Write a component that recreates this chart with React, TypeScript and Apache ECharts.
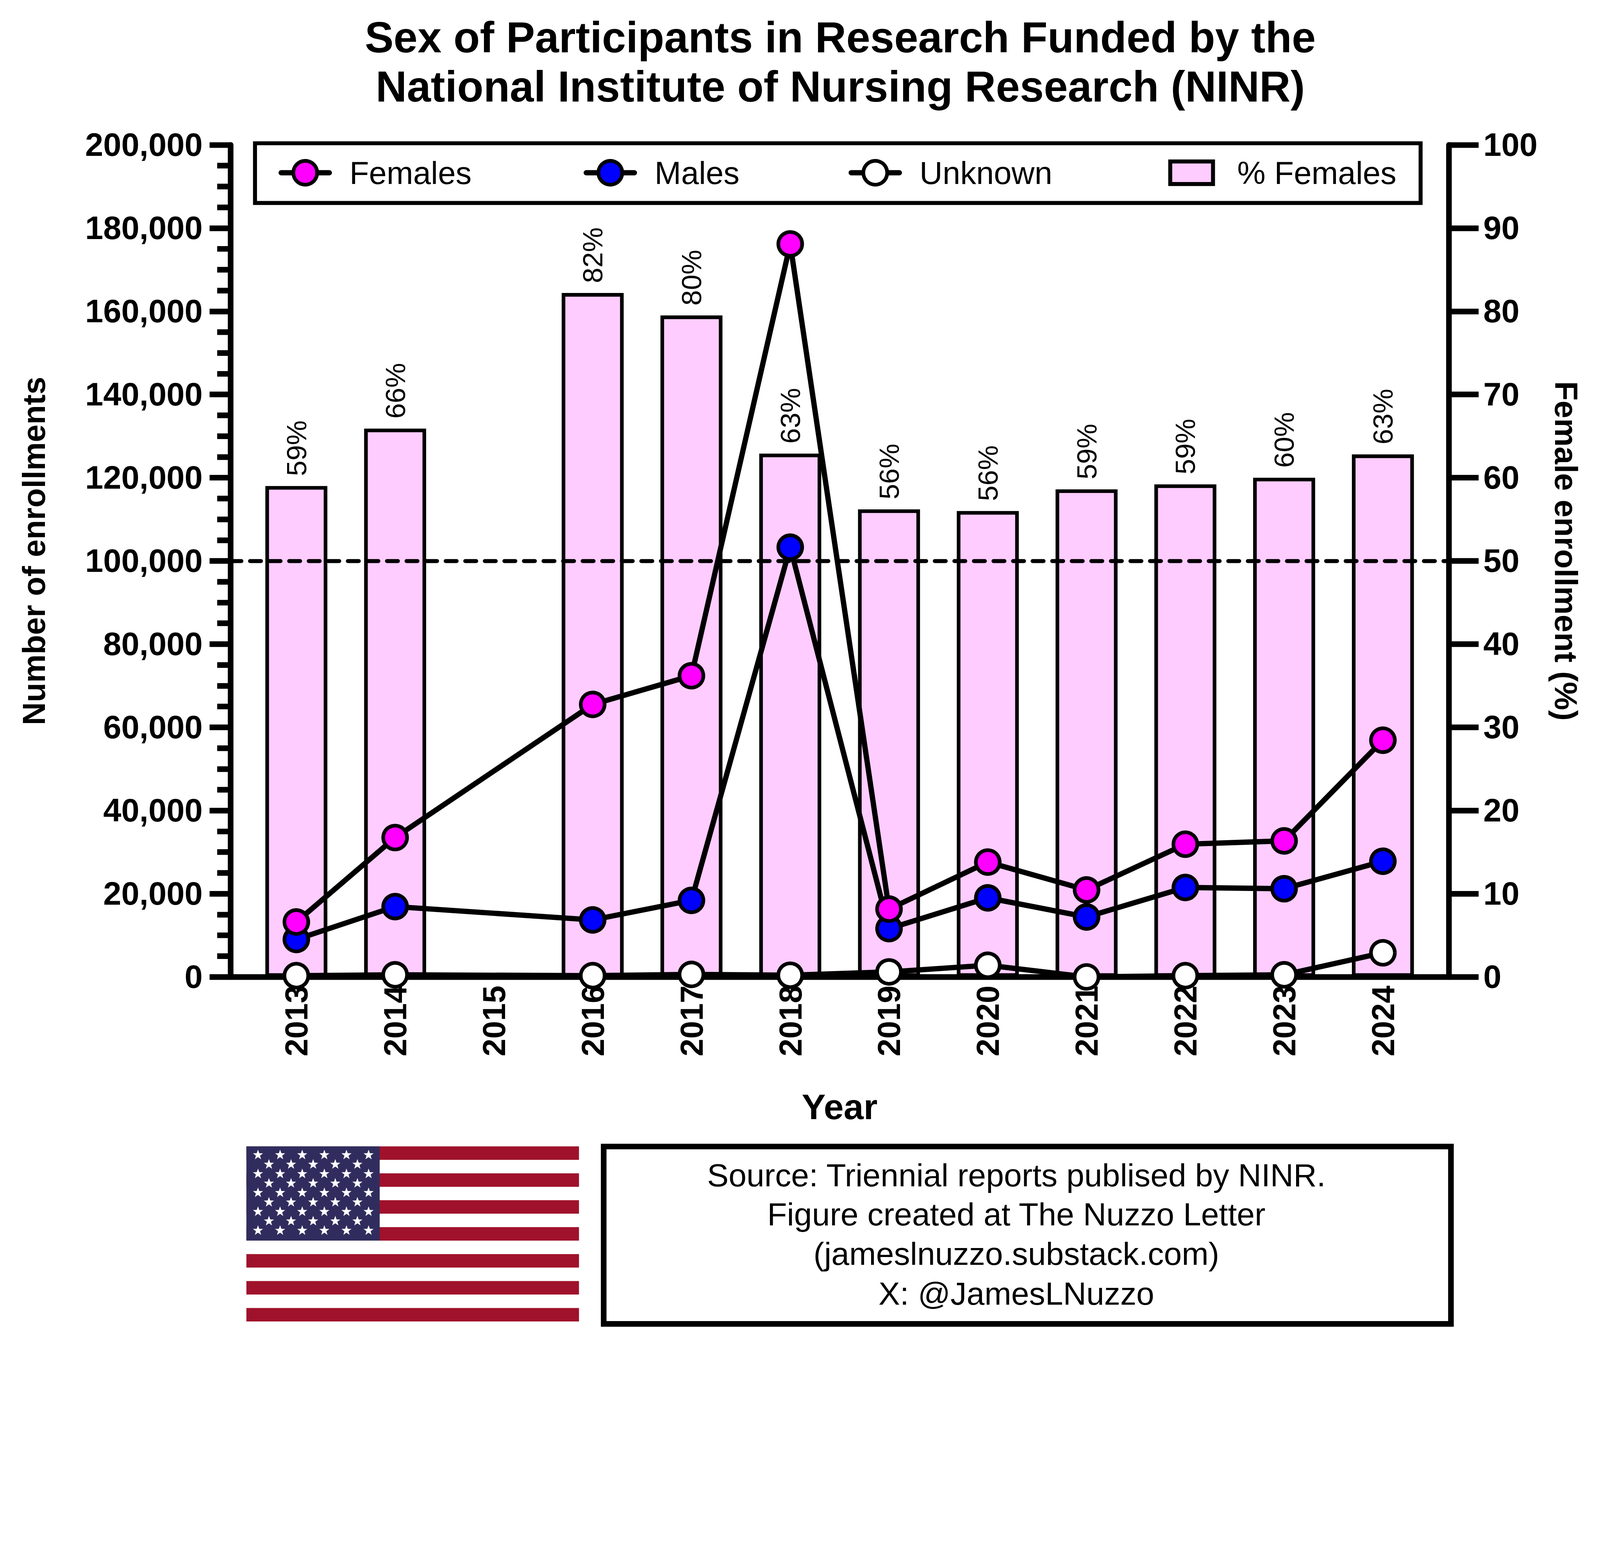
import React, { useEffect, useRef } from "react";
import * as echarts from "echarts";

// ---- Data ----
const years = [2013, 2014, 2015, 2016, 2017, 2018, 2019, 2020, 2021, 2022, 2023, 2024];
const females = [13200, 33500, null, 65500, 72400, 176200, 16300, 27600, 20900, 31900, 32700, 56900];
const males = [9000, 16900, null, 13700, 18400, 103300, 11600, 19000, 14400, 21500, 21200, 27800];
const unknown = [300, 500, null, 300, 600, 400, 1200, 2800, 0, 300, 500, 5800];
const pctFemales = [59.0, 65.9, null, 82.2, 79.5, 62.9, 56.2, 56.0, 58.6, 59.2, 60.0, 62.8];
const referencePct = 50;

const titleLines = [
  "Sex of Participants in Research Funded by the",
  "National Institute of Nursing Research (NINR)",
];
const sourceLines = [
  "Source: Triennial reports publised by NINR.",
  "Figure created at The Nuzzo Letter",
  "(jameslnuzzo.substack.com)",
  "X: @JamesLNuzzo",
];

const FONT = '"Liberation Sans", Arial, Helvetica, sans-serif';
const W = 4825;
const H = 4009;

function pairs(vals: (number | null)[]) {
  const out: [number, number][] = [];
  years.forEach((y, i) => {
    const v = vals[i];
    if (v !== null && v !== undefined) out.push([y, v]);
  });
  return out;
}

function starPoints(cx: number, cy: number, R: number, r: number) {
  const pts: number[][] = [];
  for (let k = 0; k < 10; k++) {
    const a = -Math.PI / 2 + (k * Math.PI) / 5;
    const rad = k % 2 === 0 ? R : r;
    pts.push([cx + rad * Math.cos(a), cy + rad * Math.sin(a)]);
  }
  return pts;
}

function buildFlag() {
  const fx = 743, fy = 3457, fw = 1003, fh = 528;
  const stripeH = fh / 13;
  const cantonW = 402, cantonH = stripeH * 7;
  const children: any[] = [];
  children.push({ type: "rect", shape: { x: 0, y: 0, width: fw, height: fh }, style: { fill: "#ffffff" } });
  for (let i = 0; i < 13; i += 2) {
    children.push({ type: "rect", shape: { x: 0, y: i * stripeH, width: fw, height: stripeH }, style: { fill: "#A0122B" } });
  }
  children.push({ type: "rect", shape: { x: 0, y: 0, width: cantonW, height: cantonH }, style: { fill: "#302D5E" } });
  const rowStep = 28.5, colStep = 66.7;
  for (let row = 0; row < 9; row++) {
    const even = row % 2 === 0;
    const n = even ? 6 : 5;
    const x0 = even ? 35 : 68;
    for (let c = 0; c < n; c++) {
      children.push({
        type: "polygon",
        shape: { points: starPoints(x0 + c * colStep, 26 + row * rowStep, 16, 6.5) },
        style: { fill: "#ffffff" },
      });
    }
  }
  return { type: "group", x: fx, y: fy, children };
}

function buildSource() {
  const items: any[] = [];
  items.push({
    type: "rect",
    shape: { x: 1820.5, y: 3457.5, width: 2555, height: 535 },
    style: { fill: "#ffffff", stroke: "#000000", lineWidth: 17 },
  });
  const centers = [3543, 3661, 3780, 3900];
  sourceLines.forEach((t, i) => {
    items.push({
      type: "text",
      x: 3065,
      y: centers[i],
      style: { text: t, fontSize: 97, fontFamily: FONT, fill: "#000", align: "center", verticalAlign: "middle" },
    });
  });
  return items;
}

function fitScale() {
  if (typeof window === "undefined") return 1;
  const vw = window.innerWidth || W;
  const vh = window.innerHeight || H;
  return Math.min(vw / W, vh / H);
}

export default function App() {
  const ref = useRef<HTMLDivElement>(null);
  const s = fitScale();

  useEffect(() => {
    if (!ref.current) return;
    const chart = echarts.init(ref.current, null, { renderer: "svg", width: W, height: H });

    const legendBase = (name: string, left: number, top: number, w: number, h: number, pad: number, extra: any) => ({
      data: [name],
      left,
      top,
      padding: 0,
      itemWidth: w,
      itemHeight: h,
      selectedMode: false,
      orient: "horizontal",
      textStyle: { fontSize: 96, fontFamily: FONT, color: "#000", padding: [0, 0, 0, pad] },
      ...extra,
    });

    const lineLegendExtra = { itemStyle: { borderWidth: 11 }, lineStyle: { width: 16, cap: "round" } };

    const option: any = {
      animation: false,
      backgroundColor: "#ffffff",
      grid: { left: 695, right: W - 4369, top: 437, bottom: H - 2946, containLabel: false, outerBoundsMode: "none" },
      legend: [
        legendBase("Females", 840, 473, 145, 90, 56, lineLegendExtra),
        legendBase("Males", 1760, 473, 145, 90, 56, lineLegendExtra),
        legendBase("Unknown", 2559, 473, 145, 90, 56, lineLegendExtra),
        legendBase("% Females", 3523, 473, 129, 68, 68, { icon: "rect", itemStyle: { borderWidth: 12 } }),
      ],
      xAxis: {
        type: "value",
        min: 2012.333,
        max: 2024.667,
        name: "Year",
        nameLocation: "middle",
        nameGap: 337,
        nameMoveOverlap: false,
        nameTextStyle: { fontSize: 108, fontWeight: "bold", fontFamily: FONT, color: "#000" },
        axisLine: { show: true, lineStyle: { color: "#000", width: 17 } },
        axisTick: { show: false },
        splitLine: { show: false },
        axisLabel: {
          customValues: years,
          rotate: 90,
          margin: 26,
          fontSize: 96,
          fontWeight: "bold",
          fontFamily: FONT,
          color: "#000",
          formatter: (v: number) => String(Math.round(v)),
        },
      },
      yAxis: [
        {
          type: "value",
          position: "left",
          min: 0,
          max: 200000,
          interval: 20000,
          name: "Number of enrollments",
          nameLocation: "middle",
          nameGap: 545,
          nameRotate: 90,
          nameMoveOverlap: false,
          nameTextStyle: { fontSize: 96, fontWeight: "bold", fontFamily: FONT, color: "#000", padding: [0, 0, 0, 60] },
          axisLine: { show: true, lineStyle: { color: "#000", width: 17 } },
          axisTick: { show: true, length: 63, lineStyle: { color: "#000", width: 17 } },
          minorTick: { show: true, splitNumber: 4, length: 40, lineStyle: { color: "#000", width: 17 } },
          splitLine: { show: false },
          minorSplitLine: { show: false },
          axisLabel: {
            margin: 84,
            fontSize: 98,
            fontWeight: "bold",
            fontFamily: FONT,
            color: "#000",
            formatter: (v: number) => v.toLocaleString("en-US"),
          },
        },
        {
          type: "value",
          position: "right",
          min: 0,
          max: 100,
          interval: 10,
          name: "Female enrollment (%)",
          nameLocation: "middle",
          nameGap: 306,
          nameRotate: -90,
          nameMoveOverlap: false,
          nameTextStyle: { fontSize: 96, fontWeight: "bold", fontFamily: FONT, color: "#000", padding: [0, 60, 0, 0] },
          axisLine: { show: true, lineStyle: { color: "#000", width: 17 } },
          axisTick: { show: true, length: 90, lineStyle: { color: "#000", width: 17 } },
          splitLine: { show: false },
          axisLabel: { margin: 104, fontSize: 98, fontWeight: "bold", fontFamily: FONT, color: "#000" },
        },
      ],
      graphic: [
        {
          type: "text",
          x: 2534,
          y: 39,
          z: 10,
          style: {
            text: titleLines.join("\n"),
            fontSize: 130,
            fontWeight: "bold",
            fontFamily: FONT,
            fill: "#000",
            align: "center",
            verticalAlign: "top",
            lineHeight: 148,
          },
        },
        {
          type: "rect",
          z: 3,
          shape: { x: 769, y: 432, width: 3515, height: 180 },
          style: { fill: "#ffffff", stroke: "#000000", lineWidth: 12 },
        },
        buildFlag(),
        ...buildSource(),
      ],
      series: [
        {
          name: "% Females",
          type: "bar",
          yAxisIndex: 1,
          z: 1,
          barWidth: 187,
          data: pairs(pctFemales),
          itemStyle: { color: "#FFCCFF", borderColor: "#000", borderWidth: 11 },
          label: {
            show: true,
            position: "top",
            rotate: 90,
            align: "left",
            verticalAlign: "middle",
            distance: 30,
            fontSize: 84,
            fontFamily: FONT,
            color: "#000",
            formatter: (p: any) => Math.round(p.value[1]) + "%",
          },
          markLine: {
            silent: true,
            symbol: ["none", "none"],
            label: { show: false },
            lineStyle: { color: "#000", width: 12, type: [33, 26], cap: "round" },
            data: [{ yAxis: referencePct }],
          },
        },
        {
          name: "Unknown",
          type: "line",
          data: pairs(unknown),
          symbol: "circle",
          symbolSize: 72,
          clip: false,
          lineStyle: { color: "#000", width: 16 },
          itemStyle: { color: "#FFFFFF", borderColor: "#000", borderWidth: 11 },
        },
        {
          name: "Males",
          type: "line",
          data: pairs(males),
          symbol: "circle",
          symbolSize: 72,
          clip: false,
          lineStyle: { color: "#000", width: 16 },
          itemStyle: { color: "#0000FF", borderColor: "#000", borderWidth: 11 },
        },
        {
          name: "Females",
          type: "line",
          data: pairs(females),
          symbol: "circle",
          symbolSize: 72,
          clip: false,
          lineStyle: { color: "#000", width: 16 },
          itemStyle: { color: "#FF00FF", borderColor: "#000", borderWidth: 11 },
        },
      ],
    };

    chart.setOption(option);
    return () => {
      chart.dispose();
    };
  }, []);

  return (
    <div
      style={{
        position: "fixed",
        left: 0,
        top: 0,
        width: Math.floor(W * s),
        height: Math.floor(H * s),
        overflow: "hidden",
        background: "#ffffff",
      }}
    >
      <div
        ref={ref}
        style={{ width: W, height: H, transform: `scale(${s})`, transformOrigin: "0 0" }}
      />
    </div>
  );
}
